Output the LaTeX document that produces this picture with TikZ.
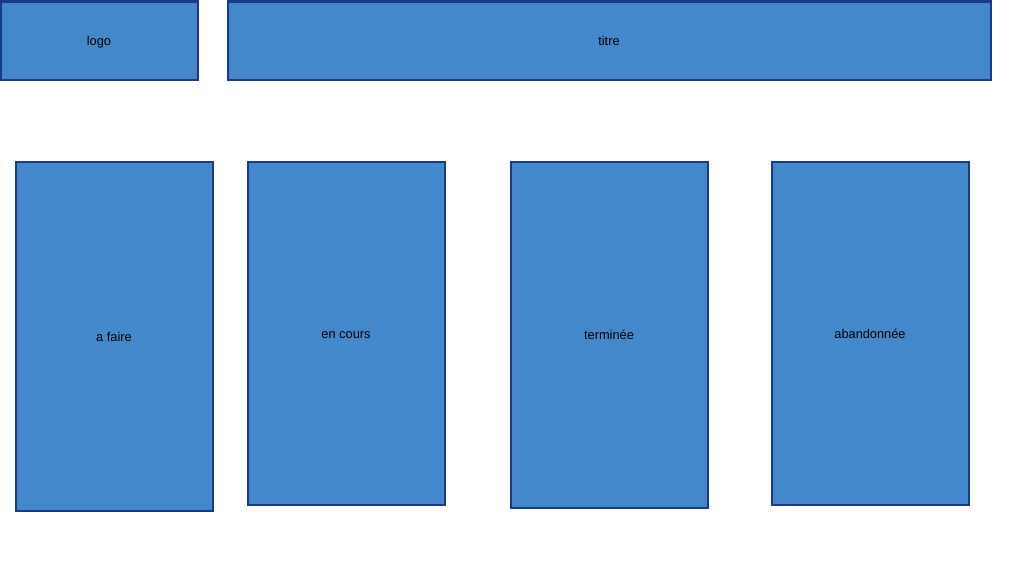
\documentclass[tikz,border=0pt]{standalone}
\usepackage{fontspec}
\setmainfont{Liberation Sans}
\definecolor{boxfill}{RGB}{68,136,204}
\definecolor{boxline}{RGB}{28,56,138}
\tikzset{
	zone/.style={draw=boxline, fill=boxfill, line width=1.5pt, inner sep=0pt,
		text height=1.7ex, text depth=.15ex,
		font=\fontsize{9.6}{11}\selectfont, text=black},
}

\begin{document}
\begin{tikzpicture}[x=0.75pt, y=-0.75pt]
		\useasboundingbox (0,0) rectangle (1032,564);
		% en-tete
		\node[zone, minimum width=197*0.75pt, minimum height=78*0.75pt] (logo) at (99,40.5) {logo};
		\node[zone, minimum width=763*0.75pt, minimum height=78*0.75pt] (titre) at (609,40.5) {titre};
		
		% colonnes
		\foreach \cx/\cy/\h/\name/\txt in {114/336/349/afaire/a faire, 346/333/343/encours/en cours, 609/334.5/346/terminee/terminée, 870/333/343/abandonnee/abandonnée}
			\node[zone, minimum width=197*0.75pt, minimum height=\h*0.75pt] (\name) at (\cx,\cy) {\txt};
	\end{tikzpicture}
\end{document}
